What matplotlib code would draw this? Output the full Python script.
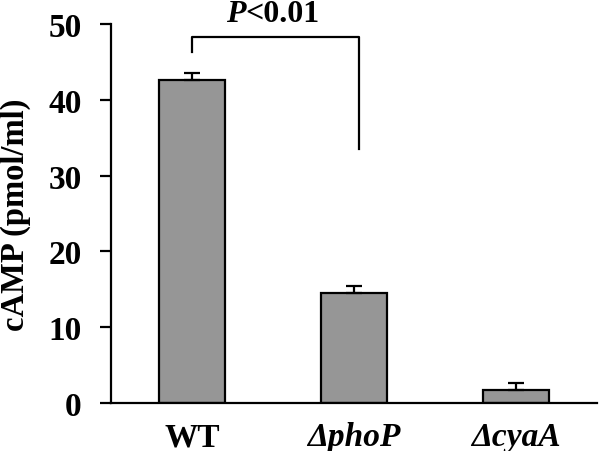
import numpy as np
import matplotlib
matplotlib.use("Agg")
import matplotlib.pyplot as plt

# data
strains = ["WT", "ΔphoP", "ΔcyaA"]
camp = [42.6, 14.5, 1.7]
camp_err = [0.9, 0.9, 0.9]

plt.rcParams['font.family'] = ['Liberation Serif', 'DejaVu Serif']
plt.rcParams['font.weight'] = 'bold'

fig = plt.figure(figsize=(6, 4.52), dpi=100)
ax = fig.add_axes([0.185, 0.106, 0.81, 0.839])

x = np.arange(len(strains))
ax.bar(x, camp, width=0.41, color='#969696', edgecolor='black', linewidth=1.6, zorder=2)
ax.errorbar(x, camp, yerr=[np.zeros(len(camp)), camp_err], fmt='none',
            ecolor='black', elinewidth=1.6, capsize=5.5, capthick=1.6, zorder=3)

ax.set_xlim(-0.5, 2.5)
ax.set_ylim(0, 50)
ax.set_yticks([0, 10, 20, 30, 40, 50])
ax.set_xticks(x)
ax.set_xticklabels(strains)
for i, lab in enumerate(ax.get_xticklabels()):
    lab.set_fontweight('bold')
    if i > 0:
        lab.set_fontstyle('italic')

ax.spines['top'].set_visible(False)
ax.spines['right'].set_visible(False)
ax.spines['left'].set_linewidth(1.6)
ax.spines['bottom'].set_linewidth(1.6)
ax.tick_params(axis='y', direction='out', length=8, width=1.6, pad=13, labelsize=24)
ax.tick_params(axis='x', length=0, pad=13, labelsize=24)
for lab in ax.get_yticklabels():
    lab.set_fontweight('bold')

ax.set_ylabel("cAMP (pmol/ml)", fontsize=23.5, fontweight='bold')
ax.yaxis.set_label_coords(-0.165, 0.5)

# significance bracket
ax.plot([0, 0, 1.03, 1.03], [46.3, 48.3, 48.3, 33.5], color='black', lw=1.6, clip_on=False)
ax.text(0.33, 50.4, "P", fontsize=23, fontweight='bold', fontstyle='italic',
        ha='right', va='baseline', clip_on=False)
ax.text(0.33, 50.4, "<0.01", fontsize=23, fontweight='bold',
        ha='left', va='baseline', clip_on=False)

fig.savefig("out.png", dpi=100)
